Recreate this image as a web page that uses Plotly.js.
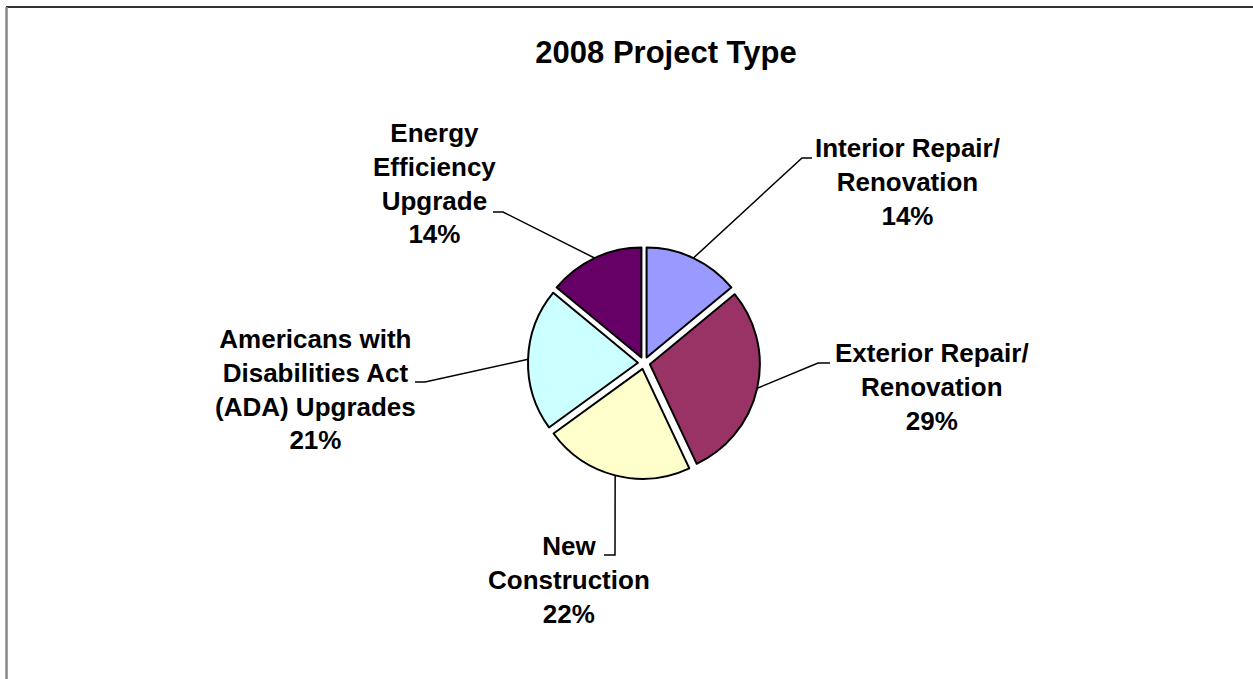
<!DOCTYPE html>
<html>
<head>
<meta charset="utf-8">
<script src="https://cdn.plot.ly/plotly-3.0.1.min.js"></script>
<style>
  html, body { margin: 0; padding: 0; background: #fff; }
  #chart { width: 1253px; height: 679px; }
</style>
</head>
<body>
<div id="chart"></div>
<script>
// ---- data ----
const categories = ['Interior Repair/ Renovation', 'Exterior Repair/ Renovation', 'New Construction', 'Americans with Disabilities Act (ADA) Upgrades', 'Energy Efficiency Upgrade'];
const labelLines = ['Interior Repair/<br>Renovation', 'Exterior Repair/<br>Renovation', 'New<br>Construction', 'Americans with<br>Disabilities Act<br>(ADA) Upgrades', 'Energy<br>Efficiency<br>Upgrade'];
const values = [14, 29, 22, 21, 14];
const colors = ['#9999FF', '#993366', '#FFFFCC', '#CCFFFF', '#660066'];
const titleText = '2008 Project Type';

// ---- layout config (pixels) ----
const W = 1253, H = 679;
const cx = 644, cy = 363, R = 116, pull = 0.055;   // R = outer extent incl. pull
const labelPos = [[907, 182], [932, 387], [569, 580], [315, 390], [435, 184]];
const elbows = [[802, 158], [818, 363], [615, 555], [425, 382], [503, 212]];
const ends = [[812, 158], [830, 363], [604, 555], [415, 382], [493, 212]];

const px = x => x / W;
const py = y => 1 - y / H;

const total = values.reduce((a, b) => a + b, 0);
const r = R / (1 + pull);
let cum = 0;
const annotations = [];
const shapes = [];
values.forEach((v, i) => {
  const mid = (cum + v / 2) / total * 2 * Math.PI; // clockwise from 12 o'clock
  cum += v;
  const rr = r * (1 + pull);
  const sx = cx + rr * Math.sin(mid), sy = cy - rr * Math.cos(mid);
  shapes.push({
    type: 'path', xref: 'paper', yref: 'paper',
    path: `M${px(sx)},${py(sy)} L${px(elbows[i][0])},${py(elbows[i][1])} L${px(ends[i][0])},${py(ends[i][1])}`,
    line: { color: '#000', width: 1.5 }
  });
  const pct = Math.round(v / total * 100);
  annotations.push({
    xref: 'paper', yref: 'paper', x: px(labelPos[i][0]), y: py(labelPos[i][1]),
    xanchor: 'center', yanchor: 'middle', showarrow: false, align: 'center',
    text: labelLines[i] + '<br>' + pct + '%',
    font: { family: 'Liberation Sans, Arial, sans-serif', size: 26, color: '#000', weight: 'bold' }
  });
});

// frame lines
shapes.push({ type: 'line', xref: 'paper', yref: 'paper', x0: px(6), x1: 1, y0: py(7), y1: py(7), line: { color: '#333', width: 2 } });
shapes.push({ type: 'line', xref: 'paper', yref: 'paper', x0: px(6.5), x1: px(6.5), y0: py(7), y1: 0, line: { color: '#888', width: 2.5 } });

const trace = {
  type: 'pie',
  labels: categories,
  values: values,
  sort: false,
  direction: 'clockwise',
  rotation: 0,
  pull: values.map(() => pull),
  marker: { colors: colors, line: { color: '#000', width: 2 } },
  textinfo: 'none',
  hoverinfo: 'label+percent',
  showlegend: false,
  domain: { x: [px(cx - R), px(cx + R)], y: [py(cy + R), py(cy - R)] }
};

const layout = {
  width: W, height: H,
  margin: { l: 0, r: 0, t: 0, b: 0 },
  paper_bgcolor: '#fff',
  showlegend: false,
  title: {
    text: titleText,
    x: px(666), xanchor: 'center', xref: 'paper',
    y: py(52), yanchor: 'middle', yref: 'paper',
    font: { family: 'Liberation Sans, Arial, sans-serif', size: 31, color: '#000', weight: 'bold' }
  },
  annotations: annotations,
  shapes: shapes
};

Plotly.newPlot('chart', [trace], layout, { displayModeBar: false, staticPlot: true });
</script>
</body>
</html>
